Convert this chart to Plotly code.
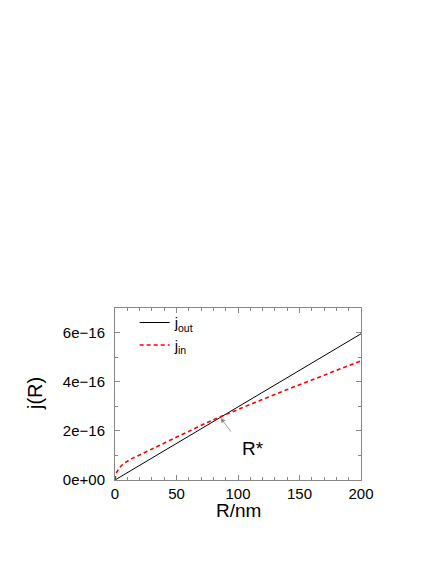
import numpy as np
import plotly.graph_objects as go

# values, j in units of 1e-16
R_out = [0, 50, 100, 150, 200]
j_out = [0, 1.49, 2.98, 4.46, 5.95]

R_in = [0, 1, 2, 3, 4, 6, 8, 10, 12, 15, 20, 27, 35, 47, 60, 75, 85, 100, 120, 140,
        160, 180, 200]
j_in = [0, 0.27, 0.37, 0.45, 0.52, 0.62, 0.70, 0.76, 0.82, 0.9, 1.02, 1.19, 1.38, 1.67,
        1.98, 2.34, 2.56, 2.87, 3.28, 3.68, 4.07, 4.46, 4.85]

y_ticks = [0, 2e-16, 4e-16, 6e-16]
y_ticktext = ['0e+00', '2e\u221216', '4e\u221216', '6e\u221216']
x_ticks = [0, 50, 100, 150, 200]

scale = 1e-16
font = 'Liberation Sans, Arial, sans-serif'

fig = go.Figure()
fig.add_trace(go.Scatter(x=R_out, y=np.array(j_out) * scale,
                         mode='lines',
                         line=dict(color='black', width=1),
                         name='j<sub>out</sub>'))
fig.add_trace(go.Scatter(x=R_in, y=np.array(j_in) * scale,
                         mode='lines',
                         line=dict(color='red', width=1.6, dash='4px,3px', shape='spline'),
                         name='j<sub>in</sub>'))

# R* marker pointing at the crossing
fig.add_annotation(x=85.4, y=2.56e-16, ax=12, ay=16,
                   text='', showarrow=True, arrowhead=2, arrowsize=1.2,
                   arrowwidth=0.8, arrowcolor='#888888', standoff=1)
fig.add_annotation(x=102, y=1.28e-16, text='R*', showarrow=False,
                   xanchor='left', font=dict(size=19, color='black', family=font))

# axis titles
fig.add_annotation(xref='paper', yref='paper', x=0.5, y=0, yshift=-30,
                   yanchor='middle', text='R/nm', showarrow=False,
                   font=dict(size=19, color='black', family=font))
fig.add_annotation(xref='paper', yref='paper', x=0, y=0.5, xshift=-80,
                   xanchor='center', textangle=-90, text='j(R)', showarrow=False,
                   font=dict(size=20, color='black', family=font))

axis_common = dict(showgrid=False, zeroline=False, showline=True, linecolor='#888888',
                   linewidth=1, mirror='ticks', ticks='inside', ticklen=5,
                   tickcolor='#888888', tickfont=dict(size=15, color='black', family=font))

fig.update_xaxes(range=[0, 200], tickvals=x_ticks,
                 minor=dict(dtick=10, ticks='inside', ticklen=3, tickcolor='#888888'),
                 **axis_common)
fig.update_yaxes(range=[0, 7e-16], tickvals=y_ticks, ticktext=y_ticktext,
                 ticklabelstandoff=6,
                 minor=dict(dtick=1e-16, ticks='inside', ticklen=3, tickcolor='#888888'),
                 **axis_common)

# the page body adds 8px, so margins are shifted by that much
fig.update_layout(width=436, height=564,
                  margin=dict(l=107, r=83, t=300, b=92),
                  paper_bgcolor='white', plot_bgcolor='white',
                  font=dict(family=font, color='black'),
                  showlegend=True,
                  legend=dict(x=0.08, y=1.01, xanchor='left', yanchor='top',
                              bgcolor='rgba(0,0,0,0)', tracegroupgap=0,
                              font=dict(size=15, color='black', family=font)))

fig.write_html('out.html')
